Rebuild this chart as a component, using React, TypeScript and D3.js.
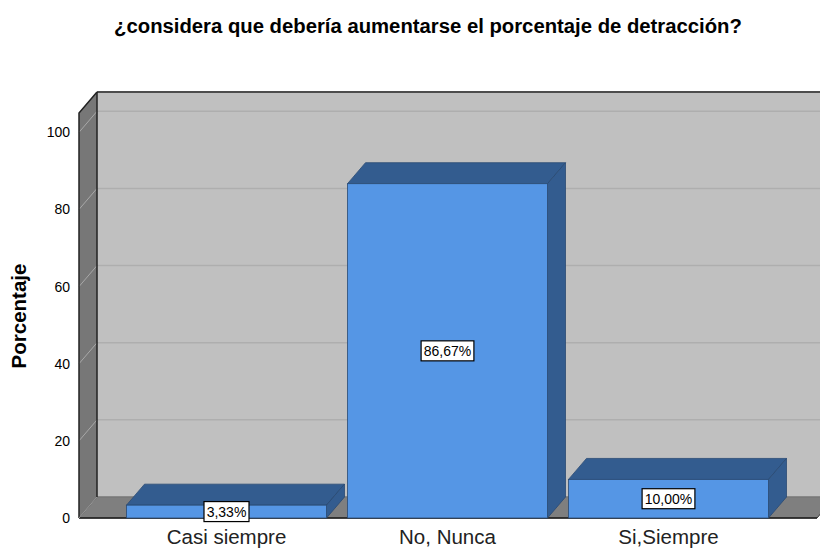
import React from "react";
import * as d3 from "d3";

const title = "¿considera que debería aumentarse el porcentaje de detracción?";
const categories = ["Casi siempre", "No, Nunca", "Si,Siempre"];
const values = [3.33, 86.67, 10.0];
const valueLabels = ["3,33%", "86,67%", "10,00%"];
const yTicks = [0, 20, 40, 60, 80, 100];
const yLabel = "Porcentaje";

export default function App() {
  const W = 820, H = 549;
  const dx = 18, dy = -21;
  const x0 = 79, x1 = 817;
  const y = d3.scaleLinear().domain([0, 105]).range([518, 113]);
  const x = d3.scaleBand<string>().domain(categories).range([116, 779]).paddingInner(0.095).paddingOuter(0.0475);
  const font = "Arial, 'Liberation Sans', sans-serif";
  const front = "#5596e5";
  const dark = "#335c8f";
  const edge = "#2a4a73";
  const yTop = y(105);
  const yBot = y(0);
  return (
    <svg width={W} height={H} style={{ position: "absolute", left: 0, top: 0 }} fontFamily={font}>
      <rect x={0} y={0} width={W} height={H} fill="#fff" />
      <text x={428} y={33} textAnchor="middle" fontSize={20.3} fontWeight="bold" fill="#000">{title}</text>
      {/* back wall */}
      <rect x={x0 + dx} y={yTop + dy} width={W} height={yBot - yTop} fill="#c0c0c0" />
      {yTicks.filter(t => t > 0).map(t => (
        <line key={"g" + t} x1={x0 + dx} x2={W} y1={y(t) + dy} y2={y(t) + dy} stroke="#aeaeae" strokeWidth={1.5} />
      ))}
      <line x1={x0 + dx} x2={W} y1={yTop + dy} y2={yTop + dy} stroke="#4d4d4d" strokeWidth={2} />
      {/* floor */}
      <polygon points={`${x0},${yBot} ${x0 + dx},${yBot + dy} ${x1 + dx},${yBot + dy} ${x1},${yBot}`} fill="#7f7f7f" stroke="#333" strokeWidth={1} />
      <line x1={x0 + dx} x2={x1 + dx} y1={yBot + dy} y2={yBot + dy} stroke="#999" strokeWidth={1} />
      {/* left wall */}
      <polygon points={`${x0},${yBot} ${x0},${yTop} ${x0 + dx},${yTop + dy} ${x0 + dx},${yBot + dy}`} fill="#777" />
      {yTicks.filter(t => t > 0).map(t => (
        <line key={"w" + t} x1={x0} x2={x0 + dx} y1={y(t)} y2={y(t) + dy} stroke="#a8a8a8" strokeWidth={1} />
      ))}
      <line x1={x0 + dx} x2={x0 + dx} y1={yTop + dy} y2={yBot + dy} stroke="#222" strokeWidth={1.5} />
      <polyline points={`${x0},${yBot} ${x0},${yTop} ${x0 + dx},${yTop + dy}`} fill="none" stroke="#222" strokeWidth={1.5} />
      <line x1={x0} x2={x1} y1={yBot} y2={yBot} stroke="#222" strokeWidth={1.5} />
      <line x1={x0} x2={x0 + dx} y1={yBot} y2={yBot + dy} stroke="#999" strokeWidth={1} />
      {/* ticks */}
      {yTicks.map(t => (
        <text key={"t" + t} x={70} y={y(t) + 5} textAnchor="end" fontSize={14} fill="#000">{t}</text>
      ))}
      <text transform={`translate(26,316) rotate(-90)`} textAnchor="middle" fontSize={20.5} fontWeight="bold" fill="#000">{yLabel}</text>
      {/* bars */}
      {categories.map((c, i) => {
        const bx = x(c)!;
        const bw = x.bandwidth();
        const by = y(values[i]);
        return (
          <g key={c}>
            <polygon points={`${bx},${by} ${bx + dx},${by + dy} ${bx + bw + dx},${by + dy} ${bx + bw},${by}`} fill={dark} stroke={edge} strokeWidth={0.8} />
            <polygon points={`${bx + bw},${by} ${bx + bw + dx},${by + dy} ${bx + bw + dx},${yBot + dy} ${bx + bw},${yBot}`} fill={dark} stroke={edge} strokeWidth={0.8} />
            <rect x={bx} y={by} width={bw} height={yBot - by} fill={front} stroke={edge} strokeWidth={0.8} />
          </g>
        );
      })}
      {/* labels */}
      {categories.map((c, i) => {
        const cx = x(c)! + x.bandwidth() / 2;
        const cy = (y(values[i]) + yBot) / 2;
        const w = valueLabels[i].length * 7.8 + 6;
        return (
          <g key={"l" + c}>
            <rect x={cx - w / 2} y={cy - 10} width={w} height={20} fill="#fff" stroke="#000" strokeWidth={1.2} />
            <text x={cx} y={cy + 5} textAnchor="middle" fontSize={14} fill="#000">{valueLabels[i]}</text>
          </g>
        );
      })}
      {categories.map(c => (
        <text key={"c" + c} x={x(c)! + x.bandwidth() / 2} y={544} textAnchor="middle" fontSize={20.5} fill="#222">{c}</text>
      ))}
    </svg>
  );
}
